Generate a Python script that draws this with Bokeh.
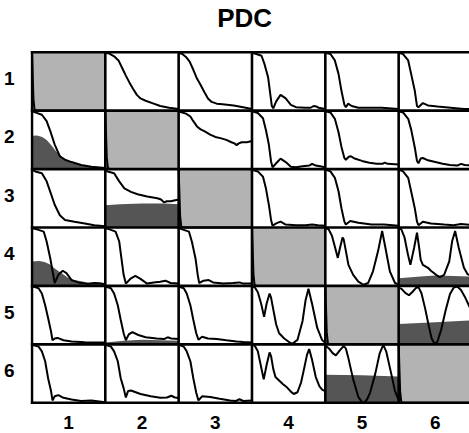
from bokeh.plotting import figure
from bokeh.models import Range1d, FixedTicker
from bokeh.core.properties import value
from bokeh.embed import file_html
from bokeh.resources import INLINE

title_text = "PDC"
channel_labels = ["1", "2", "3", "4", "5", "6"]

# each curve: (normalized frequency, PDC value)
diag_curve = [(0, 1.0), (0.01, 0.6), (0.02, 0.2), (0.035, 0.02), (0.06, 0.0), (1.0, 0.0)]

c12 = [(0, 0.99), (0.05, 0.98), (0.12, 0.93), (0.18, 0.86), (0.23, 0.73), (0.28, 0.6), (0.33, 0.48), (0.38, 0.37), (0.43, 0.27), (0.48, 0.21), (0.55, 0.17), (0.64, 0.13), (0.75, 0.08), (0.87, 0.05), (1.0, 0.03)]
c13 = [(0, 0.99), (0.05, 0.97), (0.1, 0.92), (0.15, 0.84), (0.2, 0.70), (0.25, 0.55), (0.3, 0.44), (0.35, 0.32), (0.4, 0.21), (0.45, 0.15), (0.52, 0.12), (0.6, 0.11), (0.75, 0.09), (0.88, 0.06), (1.0, 0.03)]
c14 = [(0, 0.99), (0.06, 0.97), (0.13, 0.94), (0.17, 0.80), (0.22, 0.57), (0.25, 0.28), (0.27, 0.08), (0.29, 0.04), (0.33, 0.16), (0.39, 0.27), (0.46, 0.21), (0.53, 0.10), (0.6, 0.06), (0.73, 0.05), (0.8, 0.05), (0.84, 0.08), (0.88, 0.07), (0.91, 0.05), (1.0, 0.03)]
c15 = [(0, 0.99), (0.07, 0.97), (0.13, 0.86), (0.18, 0.63), (0.22, 0.34), (0.26, 0.10), (0.28, 0.06), (0.31, 0.12), (0.36, 0.08), (0.45, 0.05), (0.54, 0.05), (0.77, 0.05), (1.0, 0.03)]
c16 = [(0, 0.99), (0.06, 0.97), (0.13, 0.86), (0.17, 0.63), (0.22, 0.34), (0.25, 0.08), (0.27, 0.06), (0.33, 0.13), (0.4, 0.09), (0.53, 0.07), (0.71, 0.05), (0.89, 0.03), (1.0, 0.03)]

c21 = [(0, 0.99), (0.045, 0.97), (0.135, 0.93), (0.2, 0.82), (0.25, 0.65), (0.31, 0.42), (0.38, 0.22), (0.45, 0.16), (0.54, 0.12), (0.67, 0.07), (0.81, 0.04), (1.0, 0.02)]
c23 = [(0, 0.99), (0.05, 0.97), (0.1, 0.95), (0.16, 0.90), (0.2, 0.82), (0.25, 0.73), (0.3, 0.68), (0.35, 0.65), (0.43, 0.59), (0.5, 0.55), (0.57, 0.53), (0.65, 0.50), (0.72, 0.46), (0.76, 0.44), (0.79, 0.41), (0.82, 0.44), (0.86, 0.46), (0.93, 0.46), (1.0, 0.48)]
c24 = [(0, 0.99), (0.08, 0.96), (0.15, 0.87), (0.19, 0.67), (0.23, 0.42), (0.26, 0.13), (0.28, 0.03), (0.33, 0.10), (0.39, 0.18), (0.46, 0.12), (0.53, 0.04), (0.6, 0.03), (0.69, 0.05), (0.78, 0.06), (0.82, 0.09), (0.87, 0.06), (1.0, 0.03)]
c25 = [(0, 0.99), (0.07, 0.97), (0.13, 0.86), (0.18, 0.63), (0.22, 0.38), (0.26, 0.19), (0.28, 0.16), (0.32, 0.21), (0.35, 0.22), (0.4, 0.18), (0.5, 0.14), (0.6, 0.11), (0.7, 0.09), (0.78, 0.09), (0.81, 0.11), (0.85, 0.09), (1.0, 0.08)]
c26 = [(0, 0.99), (0.06, 0.97), (0.13, 0.86), (0.17, 0.68), (0.22, 0.37), (0.25, 0.14), (0.27, 0.10), (0.3, 0.18), (0.33, 0.19), (0.4, 0.15), (0.5, 0.12), (0.6, 0.09), (0.7, 0.07), (0.8, 0.06), (0.85, 0.09), (0.9, 0.07), (1.0, 0.06)]

c31 = [(0, 0.99), (0.045, 0.96), (0.135, 0.93), (0.2, 0.79), (0.25, 0.61), (0.31, 0.39), (0.38, 0.21), (0.45, 0.13), (0.58, 0.10), (0.72, 0.07), (0.85, 0.04), (1.0, 0.02)]
c32 = [(0, 0.99), (0.03, 0.96), (0.12, 0.93), (0.19, 0.79), (0.26, 0.67), (0.35, 0.61), (0.44, 0.57), (0.57, 0.53), (0.71, 0.50), (0.76, 0.48), (0.8, 0.43), (0.84, 0.45), (0.89, 0.45), (1.0, 0.48)]
c34 = [(0, 0.99), (0.08, 0.96), (0.15, 0.87), (0.19, 0.67), (0.23, 0.39), (0.26, 0.13), (0.28, 0.03), (0.33, 0.07), (0.39, 0.10), (0.46, 0.05), (0.6, 0.04), (0.73, 0.04), (0.82, 0.05), (0.9, 0.04), (1.0, 0.03)]
c35 = [(0, 0.99), (0.07, 0.96), (0.13, 0.85), (0.18, 0.62), (0.22, 0.33), (0.26, 0.10), (0.28, 0.05), (0.34, 0.11), (0.45, 0.08), (0.63, 0.05), (0.8, 0.05), (1.0, 0.03)]
c36 = [(0, 0.99), (0.06, 0.96), (0.13, 0.85), (0.17, 0.62), (0.22, 0.33), (0.25, 0.10), (0.27, 0.04), (0.33, 0.10), (0.44, 0.07), (0.62, 0.05), (0.75, 0.04), (0.85, 0.06), (1.0, 0.04)]

c41 = [(0, 0.99), (0.09, 0.96), (0.16, 0.93), (0.2, 0.76), (0.25, 0.47), (0.29, 0.19), (0.31, 0.05), (0.36, 0.19), (0.42, 0.26), (0.47, 0.22), (0.54, 0.10), (0.63, 0.06), (0.76, 0.035), (0.85, 0.05), (0.92, 0.045), (1.0, 0.03)]
c42 = [(0, 0.99), (0.077, 0.96), (0.14, 0.93), (0.19, 0.76), (0.22, 0.47), (0.25, 0.19), (0.28, 0.04), (0.35, 0.13), (0.41, 0.17), (0.48, 0.12), (0.57, 0.04), (0.66, 0.06), (0.75, 0.07), (0.82, 0.09), (0.89, 0.05), (1.0, 0.04)]
c43 = [(0, 0.99), (0.07, 0.96), (0.14, 0.93), (0.18, 0.76), (0.23, 0.47), (0.26, 0.19), (0.28, 0.05), (0.34, 0.09), (0.41, 0.10), (0.47, 0.06), (0.61, 0.04), (0.74, 0.05), (0.83, 0.06), (0.88, 0.04), (1.0, 0.04)]
c45 = [(0, 0.99), (0.045, 0.97), (0.09, 0.86), (0.135, 0.65), (0.17, 0.48), (0.2, 0.65), (0.235, 0.83), (0.25, 0.80), (0.28, 0.60), (0.315, 0.36), (0.38, 0.19), (0.45, 0.075), (0.52, 0.02), (0.585, 0.05), (0.65, 0.25), (0.72, 0.60), (0.775, 0.94), (0.82, 0.65), (0.88, 0.25), (0.95, 0.05), (1.0, 0.02)]
c46 = [(0, 0.99), (0.036, 0.97), (0.08, 0.83), (0.126, 0.54), (0.16, 0.36), (0.21, 0.65), (0.25, 0.91), (0.28, 0.65), (0.3, 0.45), (0.33, 0.36), (0.4, 0.31), (0.44, 0.26), (0.51, 0.19), (0.56, 0.15), (0.62, 0.19), (0.69, 0.42), (0.73, 0.77), (0.77, 0.94), (0.82, 0.65), (0.89, 0.31), (0.94, 0.2), (1.0, 0.17)]

c51 = [(0, 0.99), (0.04, 0.98), (0.09, 0.96), (0.135, 0.87), (0.18, 0.67), (0.22, 0.45), (0.26, 0.22), (0.28, 0.07), (0.31, 0.10), (0.35, 0.11), (0.43, 0.07), (0.54, 0.05), (0.72, 0.035), (1.0, 0.03)]
c52 = [(0, 0.99), (0.077, 0.96), (0.12, 0.87), (0.17, 0.67), (0.21, 0.42), (0.25, 0.19), (0.28, 0.07), (0.32, 0.17), (0.37, 0.21), (0.45, 0.16), (0.55, 0.12), (0.7, 0.10), (0.8, 0.09), (0.85, 0.12), (0.9, 0.10), (1.0, 0.09)]
c53 = [(0, 0.99), (0.07, 0.96), (0.11, 0.87), (0.16, 0.67), (0.2, 0.42), (0.24, 0.19), (0.27, 0.08), (0.32, 0.13), (0.4, 0.10), (0.52, 0.09), (0.65, 0.07), (0.79, 0.05), (0.88, 0.04), (1.0, 0.03)]
c54 = [(0, 0.99), (0.036, 0.98), (0.08, 0.89), (0.126, 0.69), (0.165, 0.47), (0.2, 0.70), (0.24, 0.87), (0.26, 0.80), (0.29, 0.60), (0.33, 0.34), (0.37, 0.19), (0.44, 0.10), (0.51, 0.035), (0.55, 0.01), (0.62, 0.076), (0.69, 0.40), (0.73, 0.75), (0.77, 0.95), (0.82, 0.69), (0.89, 0.28), (0.955, 0.076), (1.0, 0.02)]
c56 = [(0, 0.97), (0.04, 0.95), (0.09, 0.88), (0.14, 0.84), (0.19, 0.90), (0.24, 0.97), (0.27, 0.98), (0.31, 0.88), (0.36, 0.62), (0.41, 0.32), (0.45, 0.10), (0.49, 0.01), (0.53, 0.05), (0.58, 0.25), (0.64, 0.58), (0.7, 0.86), (0.75, 0.97), (0.8, 0.99), (0.85, 0.93), (0.9, 0.82), (0.96, 0.66), (1.0, 0.55)]

c61 = [(0, 0.99), (0.04, 0.98), (0.09, 0.96), (0.135, 0.88), (0.18, 0.71), (0.22, 0.42), (0.26, 0.20), (0.28, 0.04), (0.31, 0.11), (0.36, 0.13), (0.43, 0.085), (0.54, 0.056), (0.67, 0.03), (0.81, 0.04), (1.0, 0.01)]
c62 = [(0, 0.99), (0.077, 0.96), (0.12, 0.88), (0.17, 0.71), (0.21, 0.42), (0.25, 0.25), (0.28, 0.09), (0.31, 0.2), (0.35, 0.21), (0.48, 0.15), (0.62, 0.11), (0.75, 0.085), (0.84, 0.09), (0.9, 0.12), (0.95, 0.09), (1.0, 0.08)]
c63 = [(0, 0.99), (0.07, 0.96), (0.11, 0.88), (0.16, 0.71), (0.2, 0.42), (0.24, 0.17), (0.27, 0.04), (0.32, 0.11), (0.43, 0.1), (0.56, 0.07), (0.7, 0.04), (0.78, 0.03), (0.83, 0.06), (0.88, 0.03), (1.0, 0.04)]
c64 = [(0, 0.99), (0.036, 0.98), (0.08, 0.88), (0.12, 0.64), (0.16, 0.40), (0.2, 0.65), (0.24, 0.86), (0.26, 0.80), (0.29, 0.58), (0.32, 0.44), (0.37, 0.38), (0.42, 0.32), (0.48, 0.26), (0.53, 0.19), (0.57, 0.15), (0.62, 0.18), (0.67, 0.35), (0.71, 0.58), (0.75, 0.82), (0.78, 0.92), (0.82, 0.73), (0.87, 0.44), (0.92, 0.28), (0.96, 0.22), (1.0, 0.2)]
c65 = [(0, 0.98), (0.05, 0.93), (0.1, 0.85), (0.144, 0.81), (0.2, 0.9), (0.25, 0.97), (0.28, 0.93), (0.315, 0.76), (0.38, 0.40), (0.45, 0.10), (0.5, 0.01), (0.53, 0.0), (0.57, 0.06), (0.61, 0.17), (0.68, 0.49), (0.74, 0.84), (0.79, 0.99), (0.83, 0.88), (0.9, 0.49), (0.95, 0.2), (1.0, 0.05)]

# dark grey areas (reference PDC)
f21 = [(0, 0.57), (0.07, 0.575), (0.14, 0.55), (0.2, 0.50), (0.27, 0.40), (0.33, 0.30), (0.4, 0.22), (0.47, 0.16), (0.55, 0.11), (0.65, 0.07), (0.8, 0.04), (1.0, 0.02)]
f32 = [(0, 0.38), (0.2, 0.40), (0.5, 0.41), (0.8, 0.41), (1.0, 0.40)]
f41 = [(0, 0.42), (0.1, 0.425), (0.17, 0.41), (0.24, 0.37), (0.31, 0.30), (0.4, 0.22), (0.49, 0.14), (0.58, 0.10), (0.76, 0.06), (1.0, 0.04)]
f46 = [(0, 0.13), (0.3, 0.16), (0.5, 0.18), (0.75, 0.17), (1.0, 0.16)]
f52 = [(0, 0.03), (0.25, 0.06), (0.5, 0.08), (0.75, 0.07), (1.0, 0.06)]
f56 = [(0, 0.35), (0.5, 0.38), (1.0, 0.41)]
f65 = [(0, 0.48), (0.5, 0.47), (1.0, 0.45)]

curves = {(1, 2): c12, (1, 3): c13, (1, 4): c14, (1, 5): c15, (1, 6): c16,
          (2, 1): c21, (2, 3): c23, (2, 4): c24, (2, 5): c25, (2, 6): c26,
          (3, 1): c31, (3, 2): c32, (3, 4): c34, (3, 5): c35, (3, 6): c36,
          (4, 1): c41, (4, 2): c42, (4, 3): c43, (4, 5): c45, (4, 6): c46,
          (5, 1): c51, (5, 2): c52, (5, 3): c53, (5, 4): c54, (5, 6): c56,
          (6, 1): c61, (6, 2): c62, (6, 3): c63, (6, 4): c64, (6, 5): c65}
for k in range(1, 7):
    curves[(k, k)] = diag_curve
fills = {(2, 1): f21, (3, 2): f32, (4, 1): f41, (4, 6): f46, (5, 2): f52, (5, 6): f56, (6, 5): f65}

n = len(channel_labels)
FONT = "Liberation Sans"
LIGHT = "#b3b3b3"
DARK = "#555555"

# frame spans the full height above the x labels; the band above y=6 holds the title
p = figure(width=469, height=433, output_backend="svg", toolbar_location=None,
           x_range=Range1d(-0.02, 5.966), y_range=Range1d(-0.03, 6.886),
           min_border_left=26, min_border_right=0, min_border_top=0, min_border_bottom=29)
p.title.visible = False
p.title.standoff = 0
p.outline_line_color = None
p.background_fill_color = "white"
p.border_fill_color = "white"
p.xgrid.visible = False
p.ygrid.visible = False

# title
p.text(x=[2.9], y=[6.58], text=[title_text], text_font=value(FONT), text_font_size="26px",
       text_font_style="bold", text_color="black", text_align="center", text_baseline="alphabetic")

# diagonal panels
dx = [k for k in range(n)]
p.quad(left=dx, right=[k + 1 for k in dx], bottom=[n - 1 - k for k in dx], top=[n - k for k in dx],
       fill_color=LIGHT, line_color=None)

# fills
for (r, c), pts in fills.items():
    x0, y0 = c - 1, n - r
    p.varea(x=[x0 + a for a, b in pts], y1=[y0] * len(pts), y2=[y0 + b for a, b in pts],
            fill_color=DARK)

# curves
for (r, c), pts in curves.items():
    x0, y0 = c - 1, n - r
    p.line([x0 + a for a, b in pts], [y0 + b for a, b in pts], line_color="black", line_width=2.0)

# panel borders
ks = list(range(n + 1))
p.segment(x0=ks, y0=[0] * len(ks), x1=ks, y1=[n] * len(ks), line_color="black", line_width=2.6,
          line_cap="square")
p.segment(x0=[0] * len(ks), y0=ks, x1=[n] * len(ks), y1=ks, line_color="black", line_width=2.6,
          line_cap="square")

centers = [k + 0.5 for k in range(n)]
p.xaxis.ticker = FixedTicker(ticks=centers)
p.xaxis.major_label_overrides = {k + 0.5: channel_labels[k] for k in range(n)}
ylab_pos = [n - 1 - k + 0.55 for k in range(n)]
p.yaxis.ticker = FixedTicker(ticks=ylab_pos)
p.yaxis.major_label_overrides = {ylab_pos[k]: channel_labels[k] for k in range(n)}
for ax in (p.xaxis, p.yaxis):
    ax.axis_line_color = None
    ax.major_tick_line_color = None
    ax.minor_tick_line_color = None
    ax.major_label_text_font = FONT
    ax.major_label_text_font_size = "19px"
    ax.major_label_text_font_style = "bold"
    ax.major_label_text_color = "black"
p.xaxis.major_label_standoff = 5
p.yaxis.major_label_standoff = 10
p.yaxis.major_label_orientation = "horizontal"

open("out.html", "w").write(file_html(p, INLINE))
